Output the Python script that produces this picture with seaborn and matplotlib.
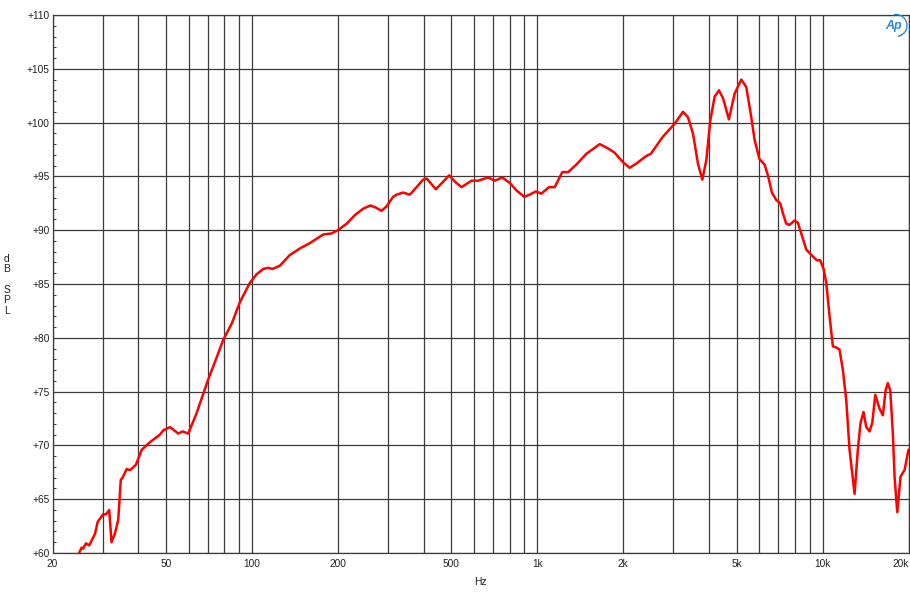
import numpy as np
import pandas as pd
import matplotlib
matplotlib.use("Agg")
import matplotlib.pyplot as plt
from matplotlib.patches import Arc
import seaborn as sns

freq_hz = [24.8, 25.3, 25.6, 26.2, 26.9, 28.2, 28.8, 30.1, 30.8, 31.6, 32.2, 33.1, 34.0, 34.7, 35.2,
           36.4, 37.4, 39.2, 41.1, 43.9, 47.6, 48.9, 51.6, 55.2, 57.2, 59.8, 64.0, 70.2, 74.8, 79.3,
           84.9, 90.7, 98.3, 103.8, 109.5, 114, 118.1, 125.3, 135.8, 147.2, 159.6, 168.4, 177.7, 190.1,
           200, 214.6, 229.4, 245.3, 260.3, 272, 284.6, 296, 312.4, 321, 338.6, 357.5, 377.5, 398, 410,
           441, 467.6, 491, 515, 542.5, 588, 620, 672.5, 709.6, 755, 800, 845, 900, 940, 987.7, 1034,
           1099, 1151, 1224, 1282, 1371, 1486, 1655, 1770, 1867, 2000, 2108, 2225, 2411, 2500, 2757,
           3031, 3241, 3373, 3512, 3656, 3789, 3912, 4040, 4183, 4332, 4473, 4695, 4917, 5189, 5401,
           5624, 5775, 6010, 6259, 6433, 6641, 6880, 7105, 7255, 7457, 7660, 7973, 8190, 8418, 8765,
           9126, 9547, 9812, 10079, 10300, 10579, 10865, 11166, 11466, 11776, 12103, 12428, 12942,
           13290, 13584, 13917, 14222, 14606, 14930, 15296, 15834, 16262, 16619, 16931, 17262, 17627,
           17871, 18262, 18756, 19372, 20000]
spl_db = [60.0, 60.5, 60.4, 60.9, 60.7, 61.8, 62.9, 63.6, 63.6, 64.0, 61.0, 61.8, 63.1, 66.8, 67.0,
          67.8, 67.7, 68.2, 69.6, 70.3, 71.0, 71.4, 71.7, 71.1, 71.3, 71.1, 73.0, 76.1, 78.0, 79.8,
          81.3, 83.3, 85.1, 85.9, 86.4, 86.5, 86.4, 86.7, 87.7, 88.3, 88.8, 89.2, 89.6, 89.7,
          90.0, 90.6, 91.4, 92.0, 92.3, 92.1, 91.8, 92.2, 93.1, 93.3, 93.5, 93.3, 94.0, 94.7, 94.8,
          93.8, 94.5, 95.1, 94.5, 94.0, 94.6, 94.6, 94.9, 94.6, 94.9, 94.4, 93.7, 93.1, 93.3, 93.6, 93.4,
          94.0, 94.0, 95.4, 95.4, 96.1, 97.1, 98.0, 97.6, 97.2, 96.3, 95.8, 96.2, 96.9, 97.1, 98.7,
          99.9, 101.0, 100.5, 99.0, 96.2, 94.7, 96.5, 100.2, 102.4, 103.0, 102.3, 100.3, 102.7, 104.0, 103.3,
          100.5, 98.4, 96.6, 96.1, 95.1, 93.5, 92.8, 92.5, 91.6, 90.6, 90.5, 90.9, 90.7, 89.7, 88.2,
          87.7, 87.2, 87.2, 86.4, 85.1, 82.0, 79.2, 79.1, 78.9, 77.0, 74.2, 69.6, 65.5,
          69.6, 72.1, 73.1, 71.7, 71.3, 72.1, 74.7, 73.4, 72.8, 75.1, 75.8, 75.1, 71.1,
          67.1, 63.8, 67.1, 67.7, 69.6]

x_grid = [20, 30, 40, 50, 60, 70, 80, 90, 100, 200, 300, 400, 500, 600, 700, 800, 900,
          1000, 2000, 3000, 4000, 5000, 6000, 7000, 8000, 9000, 10000, 20000]
x_labels = {20: "20", 50: "50", 100: "100", 200: "200", 500: "500", 1000: "1k",
            2000: "2k", 5000: "5k", 10000: "10k", 20000: "20k"}
y_major = [60, 65, 70, 75, 80, 85, 90, 95, 100, 105, 110]

df = pd.DataFrame({"Hz": freq_hz, "SPL": spl_db})

sns.set_style("white")
plt.rcParams["font.family"] = ["Liberation Sans", "DejaVu Sans"]

fig = plt.figure(figsize=(9.1, 6.0), dpi=100)
ax = fig.add_axes([52.5 / 910, 47 / 600, (908.5 - 52.5) / 910, (553 - 15) / 600])

sns.lineplot(data=df, x="Hz", y="SPL", ax=ax, color="#ff0000", linewidth=1.8,
             estimator=None, sort=True, zorder=5)

ax.set_xscale("log")
ax.set_xlim(20, 20000)
ax.set_ylim(60, 110)

ax.set_xticks(x_grid)
ax.set_xticklabels([x_labels.get(v, "") for v in x_grid])
ax.get_xticklabels()[-1].set_horizontalalignment("right")
ax.xaxis.set_minor_locator(matplotlib.ticker.NullLocator())
ax.set_yticks(y_major)
ax.set_yticklabels(["+%d" % v for v in y_major])
ax.set_yticks(np.arange(60, 111, 1), minor=True)

ax.grid(True, which="major", color="#3a3a3a", linewidth=0.9)
ax.tick_params(axis="x", which="major", length=0, pad=4, labelsize=7.3, colors="#222222")
ax.tick_params(axis="y", which="major", length=0, pad=2, labelsize=7.3, colors="#222222")
ax.tick_params(axis="y", which="minor", direction="in", length=2.5, width=0.7, color="#3a3a3a", left=True)
for s in ax.spines.values():
    s.set_color("#3a3a3a")
    s.set_linewidth(0.9)

ax.set_xlabel("Hz", fontsize=7.5, color="#222222", labelpad=6)
ax.set_ylabel("")
fig.text(7 / 910, 1 - 284.5 / 600, "d\nB\n\nS\nP\nL", fontsize=7.5, color="#222222",
         ha="center", va="center", linespacing=1.05)

# Ap logo
fig.text(894 / 910, 1 - 26 / 600, "Ap", fontsize=9, color="#2a8ad8", style="italic",
         ha="center", va="center", fontweight="bold")
arc = Arc((8.96, 6.0 - 0.255), 0.22, 0.22, theta1=-80, theta2=100,
          transform=fig.dpi_scale_trans, color="#2a8ad8", linewidth=1.0)
fig.add_artist(arc)

fig.savefig("out.png", dpi=100)
